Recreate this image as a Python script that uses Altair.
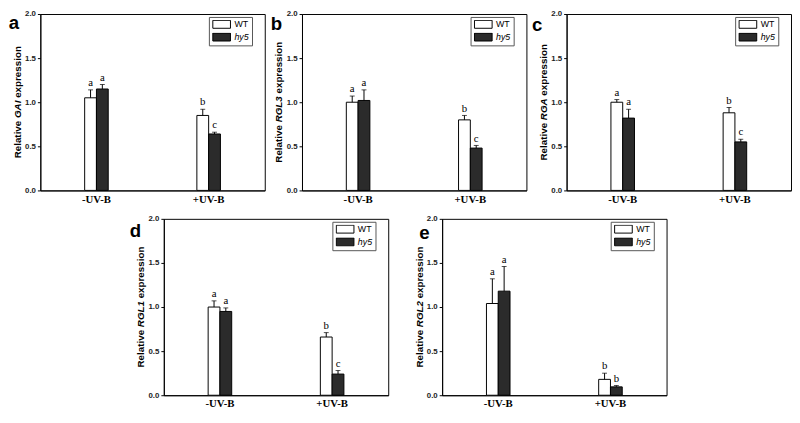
import altair as alt
import pandas as pd

treatments = ["-UV-B", "+UV-B"]
genotypes = ["WT", "hy5"]

genes = ["GAI", "RGL3", "RGA", "RGL1", "RGL2"]
letters = ["a", "b", "c", "d", "e"]

# order: (-UV-B WT, -UV-B hy5, +UV-B WT, +UV-B hy5)
gai_mean = [1.05, 1.15, 0.85, 0.64]
gai_err = [0.09, 0.05, 0.07, 0.02]
gai_sig = ["a", "a", "b", "c"]

rgl3_mean = [1.00, 1.02, 0.80, 0.48]
rgl3_err = [0.07, 0.12, 0.05, 0.03]
rgl3_sig = ["a", "a", "b", "c"]

rga_mean = [1.00, 0.82, 0.88, 0.55]
rga_err = [0.03, 0.10, 0.06, 0.03]
rga_sig = ["a", "a", "b", "c"]

rgl1_mean = [1.00, 0.95, 0.66, 0.24]
rgl1_err = [0.07, 0.04, 0.05, 0.04]
rgl1_sig = ["a", "a", "b", "c"]

rgl2_mean = [1.04, 1.18, 0.18, 0.095]
rgl2_err = [0.28, 0.28, 0.07, 0.015]
rgl2_sig = ["a", "a", "b", "b"]

W, H = 229, 180

# Arial/Liberation Sans Bold advance widths (per 1000 em)
CW = {"R": 722, "e": 556, "l": 278, "a": 556, "t": 333, "i": 278, "v": 556, " ": 278,
      "x": 556, "p": 611, "r": 389, "s": 556, "o": 611, "n": 611, "G": 778, "A": 722,
      "I": 278, "L": 611, "1": 556, "2": 556, "3": 556}
TFS = 10


def tw(s):
    return sum(CW.get(c, 556) for c in s) * TFS / 1000.0


def panel(gene, letter, means, errs, sigs, letter_dx, letter_dy):
    rows = []
    k = 0
    for t in treatments:
        for g in genotypes:
            rows.append({"treatment": t, "genotype": g, "mean": means[k],
                         "err": errs[k], "top": means[k] + errs[k], "sig": sigs[k]})
            k += 1
    df = pd.DataFrame(rows)

    x_enc = alt.X("treatment:N", sort=treatments,
                  scale=alt.Scale(paddingInner=0.79, paddingOuter=0.395),
                  axis=alt.Axis(title=None, labelAngle=0, ticks=False, labelPadding=3,
                                labelFont="Liberation Serif", labelFontWeight="bold",
                                labelFontSize=11, labelColor="black",
                                domainColor="black", domainWidth=1))
    xo = alt.XOffset("genotype:N", sort=genotypes)
    y_scale = alt.Scale(domain=[0, 2])
    base = alt.Chart(df).encode(x=x_enc, xOffset=xo)

    bars = base.mark_bar(stroke="black", strokeWidth=1).encode(
        y=alt.Y("mean:Q", scale=y_scale,
                axis=alt.Axis(title=None, values=[0, 0.5, 1, 1.5, 2], format=".1f",
                              tickSize=3, tickColor="black", domainColor="black",
                              labelFont="Liberation Sans", labelFontWeight="bold",
                              labelFontSize=8, labelColor="#222", grid=False,
                              labelPadding=2)),
        fill=alt.Fill("genotype:N", sort=genotypes,
                      scale=alt.Scale(domain=genotypes, range=["white", "#2b2b2b"]),
                      legend=alt.Legend(title=None, orient="none", legendX=W - 57, legendY=3,
                                        symbolType="M-2,-0.9H2V0.9H-2Z", symbolSize=81,
                                        symbolStrokeColor="black", symbolStrokeWidth=1,
                                        labelFont="Liberation Sans", labelFontSize=9,
                                        labelColor="black", clipHeight=9,
                                        labelFontStyle=alt.ExprRef("datum.label == 'hy5' ? 'italic' : 'normal'"),
                                        strokeColor="#555", fillColor="white", padding=3,
                                        rowPadding=3, labelOffset=8, symbolOffset=5)),
    )
    rule = base.mark_rule(color="black", strokeWidth=1).encode(
        y=alt.Y("mean:Q", scale=y_scale), y2="top:Q")
    cap = base.mark_tick(color="black", size=5, thickness=1).encode(
        y=alt.Y("top:Q", scale=y_scale))
    txt = base.mark_text(dy=-7, font="Liberation Serif", fontSize=11, color="black").encode(
        y=alt.Y("top:Q", scale=y_scale), text="sig:N")

    one = pd.DataFrame({"k": [0]})
    p1, p2, p3 = "Relative ", gene, " expression"
    total = tw(p1) + tw(p2) + tw(p3)
    y0 = H / 2 + total / 2
    tx = -23
    common = dict(angle=270, align="left", baseline="middle", font="Liberation Sans",
                  fontSize=TFS, fontWeight="bold", color="black")
    t1 = alt.Chart(one).mark_text(text=p1.strip(), **common).encode(
        x=alt.value(tx), y=alt.value(y0))
    t2 = alt.Chart(one).mark_text(text=p2, fontStyle="italic", **common).encode(
        x=alt.value(tx), y=alt.value(y0 - tw(p1)))
    t3 = alt.Chart(one).mark_text(text=p3.strip(), **common).encode(
        x=alt.value(tx), y=alt.value(y0 - tw(p1) - tw(p2) - tw(" ")))
    lt = alt.Chart(one).mark_text(text=letter, font="Liberation Sans", fontSize=19,
                                  fontWeight="bold", color="black", align="center",
                                  baseline="top").encode(
        x=alt.value(letter_dx), y=alt.value(letter_dy))

    return alt.layer(bars, rule, cap, txt, t1, t2, t3, lt).properties(
        width=W, height=H, view=alt.ViewBackground(stroke="black", strokeWidth=1))


pa = panel(genes[0], letters[0], gai_mean, gai_err, gai_sig, -27, 0)
pb = panel(genes[1], letters[1], rgl3_mean, rgl3_err, rgl3_sig, -26, 1)
pc = panel(genes[2], letters[2], rga_mean, rga_err, rga_sig, -30, 2)
pd_ = panel(genes[3], letters[3], rgl1_mean, rgl1_err, rgl1_sig, -29, 4)
pe = panel(genes[4], letters[4], rgl2_mean, rgl2_err, rgl2_sig, -18, 6)

spacer = alt.Chart(pd.DataFrame({"k": [0]})).mark_point(opacity=0, size=1).encode(
    x=alt.value(0), y=alt.value(H / 2)).properties(
    width=65, height=H, view=alt.ViewBackground(stroke=None))

top = alt.hconcat(pa, pb, pc, spacing=4).resolve_scale(fill="independent", x="independent", y="independent")
bottom = alt.hconcat(spacer, pd_, pe, spacing=25).resolve_scale(fill="independent", x="independent", y="independent")

chart = alt.vconcat(top, bottom, spacing=9).resolve_scale(
    fill="independent", x="independent", y="independent").properties(
    padding={"left": 0, "top": -3, "right": 0, "bottom": 0},
    background="white").configure_view(stroke=None)

chart.save("out.html", embed_options={"renderer": "svg", "actions": False})
